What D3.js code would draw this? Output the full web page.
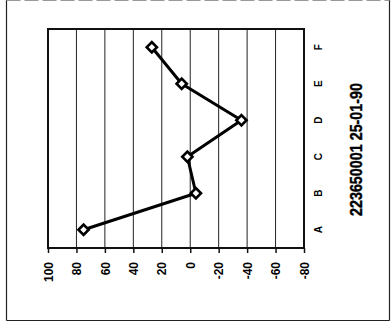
<!DOCTYPE html>
<html>
<head>
<meta charset="utf-8">
<script src="https://cdn.jsdelivr.net/npm/d3@7"></script>
<style>
  html, body { margin: 0; padding: 0; background: #fff; }
  svg { display: block; }
</style>
</head>
<body>
<script>
const categories = ["A", "B", "C", "D", "E", "F"];
const values = [75, -4, 2, -36, 6, 27];
const valueTicks = [100, 80, 60, 40, 20, 0, -20, -40, -60, -80];
const title = "223650001 25-01-90";

(function () {
const W = 391, H = 324;
const svg = d3.select("body").append("svg").attr("width", W).attr("height", H);

// outer frame
svg.append("line").attr("x1", 6.5).attr("x2", 6.5).attr("y1", 0).attr("y2", 320.5).attr("stroke", "#222").attr("stroke-width", 1.2);
svg.append("line").attr("x1", 389.5).attr("x2", 389.5).attr("y1", 0).attr("y2", 320.5).attr("stroke", "#222").attr("stroke-width", 1.2);
svg.append("line").attr("x1", 6.5).attr("x2", 389.5).attr("y1", 320.5).attr("y2", 320.5).attr("stroke", "#222").attr("stroke-width", 1.2);
svg.append("line").attr("x1", 6.5).attr("x2", 389.5).attr("y1", 0.5).attr("y2", 0.5).attr("stroke", "#999").attr("stroke-width", 1).attr("stroke-dasharray", "14,4");

const pLeft = 48, pRight = 304, pTop = 29, pBottom = 248;

// value scale runs horizontally (chart is rotated)
const x = d3.scaleLinear().domain([100, -80]).range([pLeft, pRight]);
const y = d3.scaleBand().domain(categories.slice().reverse()).range([pTop, pBottom]);

// gridlines
svg.append("g").selectAll("line").data(valueTicks).join("line")
  .attr("x1", d => x(d)).attr("x2", d => x(d))
  .attr("y1", pTop).attr("y2", pBottom)
  .attr("stroke", "#222").attr("stroke-width", 1);

// plot frame
svg.append("rect").attr("x", pLeft).attr("y", pTop).attr("width", pRight - pLeft).attr("height", pBottom - pTop)
  .attr("fill", "none").attr("stroke", "#111").attr("stroke-width", 2);

// value axis (bottom)
const xAxis = svg.append("g").attr("transform", `translate(0,${pBottom})`)
  .call(d3.axisBottom(x).tickValues(valueTicks).tickFormat(d => String(d))
    .tickSize(5).tickSizeOuter(0).tickPadding(0));
xAxis.select(".domain").remove();
xAxis.selectAll(".tick line").attr("stroke", "#111").attr("stroke-width", 1.5);
xAxis.selectAll(".tick text")
  .attr("transform", "translate(0,14) rotate(-90)")
  .attr("x", 0).attr("y", 0).attr("dy", "0.35em")
  .attr("text-anchor", "end")
  .style("font-family", "'Liberation Sans', Arial, sans-serif")
  .style("font-size", "12px").style("font-weight", "bold").attr("fill", "#000");

// category axis (right)
const yAxis = svg.append("g").attr("transform", `translate(${pRight},0)`)
  .call(d3.axisRight(y).tickSize(0).tickPadding(0));
yAxis.select(".domain").remove();
yAxis.selectAll(".tick text")
  .attr("transform", "translate(14,0) rotate(-90)")
  .attr("x", 0).attr("y", 0).attr("dy", "0.35em")
  .attr("text-anchor", "middle")
  .style("font-family", "'Liberation Sans', Arial, sans-serif")
  .style("font-size", "10px").style("font-weight", "bold").attr("fill", "#000");

// data line
const pts = categories.map((c, i) => [x(values[i]), y(c) + y.bandwidth() / 2]);
svg.append("path").attr("d", d3.line()(pts))
  .attr("fill", "none").attr("stroke", "#000").attr("stroke-width", 3).attr("stroke-linejoin", "round");

// diamond markers
const diamond = d3.symbol().type(d3.symbolSquare).size(52)();
svg.append("g").selectAll("path").data(pts).join("path")
  .attr("d", diamond)
  .attr("transform", d => `translate(${d[0]},${d[1]}) rotate(45)`)
  .attr("fill", "#fff").attr("stroke", "#000").attr("stroke-width", 2.6);

// title (rotated)
svg.append("text")
  .attr("transform", "translate(356,149.5) rotate(-90)")
  .attr("text-anchor", "middle").attr("dy", "0.35em")
  .attr("textLength", 133).attr("lengthAdjust", "spacingAndGlyphs")
  .style("font-family", "'Liberation Sans', Arial, sans-serif")
  .style("font-size", "17px").style("font-weight", "bold").attr("fill", "#000")
  .attr("stroke", "#000").attr("stroke-width", 0.4)
  .text(title);
})();
</script>
</body>
</html>
